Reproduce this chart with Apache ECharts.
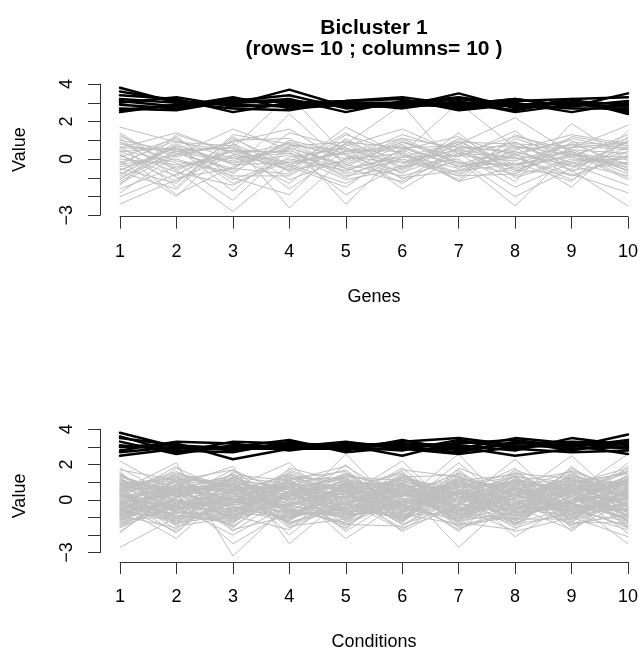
<!DOCTYPE html>
<html>
<head>
<meta charset="utf-8">
<script src="https://cdn.jsdelivr.net/npm/echarts@6/dist/echarts.min.js"></script>
<style>
  html, body { margin: 0; padding: 0; background: #fff; }
  #chart { width: 641px; height: 652px; }
</style>
</head>
<body>
<div id="chart"></div>
<script>
// Profile positions along the x axis
const positions = [1, 2, 3, 4, 5, 6, 7, 8, 9, 10];

// Y tick labels that are printed (other ticks stay unlabeled)
const yLabelValues = [-3, 0, 2, 4];
const yLabelTexts = ['\u22123', '0', '2', '4'];

// Genes panel: bicluster rows (black)
const geneIn = [
  [3.8, 3.0, 2.9, 3.7, 2.8, 3.0, 3.3, 2.9, 3.0, 2.6],
  [3.4, 3.2, 2.5, 3.0, 3.1, 3.3, 2.9, 3.2, 2.8, 3.5],
  [3.1, 2.8, 3.3, 2.7, 2.9, 2.8, 3.5, 2.7, 3.2, 2.4],
  [2.5, 2.9, 3.0, 3.2, 2.5, 3.1, 2.7, 3.0, 2.5, 3.0],
  [3.0, 3.3, 2.8, 2.9, 3.0, 2.7, 3.1, 2.5, 2.9, 2.8],
  [2.7, 2.6, 3.1, 3.4, 2.7, 2.9, 2.8, 3.1, 3.2, 3.3],
  [3.2, 3.0, 2.7, 2.6, 3.1, 3.2, 2.6, 2.9, 2.7, 2.7],
  [2.9, 2.7, 3.2, 3.0, 2.8, 2.8, 3.0, 2.6, 3.1, 2.9],
  [3.6, 3.1, 2.9, 2.8, 3.0, 3.0, 2.9, 3.2, 2.8, 3.1],
  [2.6, 2.9, 3.0, 3.1, 2.9, 2.9, 3.2, 2.8, 3.0, 2.5]
];

// Genes panel: remaining rows (grey)
const geneOut = [
  [1.7, 0.9, 0.4, -0.2, 0.3, 0.6, -0.4, 0.2, 1.1, 0.5],
  [-2.4, -1.1, 0.2, 0.8, -0.5, 0.1, 0.9, -0.3, 0.4, -0.8],
  [0.6, 1.4, 0.3, -0.6, 1.7, 0.2, -0.5, 0.7, -0.2, 0.1],
  [-0.3, 0.2, 1.6, 0.5, -0.9, -0.4, 0.8, 2.2, 0.3, -0.6],
  [0.9, -0.6, -2.8, -0.3, 0.4, 1.1, -0.2, -0.8, 0.6, 1.8],
  [-1.2, 0.5, 0.6, 3.4, 0.2, -0.7, 0.3, 0.1, -1.1, 0.4],
  [0.3, -1.9, -0.4, 0.9, -2.4, 0.5, 1.2, -0.5, 0.2, -0.3],
  [-0.8, 0.7, -1.3, -0.1, 0.8, 2.9, -0.6, 0.4, -0.4, 0.9],
  [1.2, 0.1, 0.9, -2.6, 0.1, -0.2, 0.5, -1.2, 1.9, -0.1],
  [-1.6, -0.4, 0.1, 0.3, -0.7, 0.8, -1.2, 0.9, -0.6, -2.5],
  [0.1, 1.1, -0.8, 1.4, 0.6, -1.6, 0.2, -0.1, 0.8, 0.6],
  [-0.5, -1.3, 1.2, -0.7, 1.3, 0.3, 3.0, 0.6, -0.9, 0.2],
  [0.8, 0.3, -0.6, 2.4, -0.3, -0.9, -0.1, -2.5, 0.4, -1.0],
  [-2.0, -0.8, 0.5, -0.4, -1.5, 0.6, 0.7, 0.3, -1.5, 1.2],
  [0.4, 0.6, -1.7, 0.7, 0.9, -0.1, -0.9, 1.1, 0.1, -0.4],
  [-0.1, -2.0, 0.8, -1.1, 0.0, 1.3, 0.4, -0.7, 0.9, 0.7],
  [1.0, 0.4, -0.2, 0.2, -1.1, -0.5, 1.1, 0.2, -0.3, -1.4],
  [-0.9, 0.9, 0.7, -1.6, 0.5, 0.4, -1.2, -0.4, 0.5, 0.3],
  [0.5, -0.2, -2.2, 0.6, -0.4, 0.9, 0.1, 1.5, -0.7, 1.0],
  [-1.4, 1.3, 0.3, -0.5, 1.0, -1.1, 0.6, -0.9, 0.0, -0.2],
  [0.2, -0.9, 1.0, 1.1, -0.8, 0.0, -0.7, 0.5, 1.3, 0.8],
  [-0.4, 0.0, -0.9, -0.9, 0.7, 1.6, 0.3, -1.5, -0.2, -0.9],
  [1.4, -0.5, 0.4, 0.4, -1.9, -0.3, 0.9, 0.8, 0.7, 0.5],
  [-1.1, 0.8, -0.3, -0.2, 0.4, 0.7, -0.4, -0.2, -1.2, 1.5],
  [0.7, -1.5, 1.3, 0.8, 0.2, -1.3, 0.5, 0.0, 0.4, -0.6],
  [-0.6, 0.6, -1.1, 0.0, -0.6, 0.2, -1.1, 1.3, 0.2, 0.1],
  [0.0, -0.3, 0.2, -1.3, 1.1, -0.6, 0.8, -0.6, -0.8, -1.8],
  [-1.8, 0.2, 0.9, 1.6, -0.2, 1.0, -0.3, 0.6, 0.6, 0.9],
  [1.1, -1.0, -0.5, -0.8, 0.8, -0.8, 1.4, -1.0, -0.1, 0.0],
  [-0.2, 1.0, 0.0, 0.5, -1.0, 0.5, -0.8, 0.3, 1.0, -0.7],
  [0.4, -0.7, -1.4, 0.1, 0.6, -0.4, 0.0, -2.0, -0.5, 0.6],
  [-1.0, 0.4, 0.6, -0.6, -0.1, 1.1, 0.6, 0.7, 0.2, 1.1],
  [0.9, -0.1, -0.7, 1.0, 0.3, -1.0, -0.6, -0.3, 0.8, -0.3],
  [-0.7, -1.6, 1.1, -0.3, -1.3, 0.1, 0.2, 0.9, -0.4, 0.4],
  [0.6, 0.5, -0.1, 0.7, 0.5, -0.2, 1.0, -0.6, 0.3, -1.1],
  [-0.3, 1.2, -1.0, -1.9, 0.9, 0.6, -0.4, 0.1, -0.9, 0.2],
  [1.3, -0.6, 0.5, 0.3, -0.5, -1.2, 0.3, 1.2, 0.5, -0.5],
  [-1.3, 0.3, -0.5, 0.9, 0.0, 0.3, -0.9, -0.8, 1.2, 0.7],
  [0.2, -1.2, 0.8, -0.4, 1.4, -0.5, 0.6, 0.4, -0.6, -0.2],
  [-0.6, 0.7, -0.2, 0.6, -0.3, 0.9, -0.2, -0.3, 0.1, 1.3]
];

// Conditions panel: bicluster columns (black)
const condIn = [
  [3.8, 3.0, 2.9, 3.2, 3.0, 3.3, 3.5, 3.1, 3.0, 3.7],
  [3.3, 2.6, 3.1, 3.0, 3.3, 2.9, 2.9, 3.5, 3.2, 2.9],
  [3.0, 3.2, 2.3, 2.9, 2.9, 3.2, 3.1, 2.8, 3.5, 3.1],
  [2.5, 2.9, 3.0, 3.4, 2.7, 3.0, 2.7, 3.3, 2.8, 3.3],
  [3.5, 3.1, 2.8, 3.1, 3.1, 2.5, 3.3, 3.0, 3.1, 2.6],
  [2.8, 3.3, 3.2, 2.8, 3.2, 3.1, 3.0, 2.5, 2.9, 3.0],
  [3.1, 2.8, 2.7, 3.3, 2.8, 3.4, 2.8, 3.2, 3.3, 3.2],
  [2.7, 3.0, 3.0, 3.0, 3.0, 2.8, 3.4, 2.9, 2.7, 2.8],
  [3.6, 2.7, 3.3, 3.2, 3.1, 3.0, 3.2, 3.4, 3.0, 3.4],
  [3.0, 3.1, 2.9, 2.9, 2.9, 2.9, 2.6, 3.0, 3.2, 3.0]
];

// Conditions panel: remaining columns (grey)
const condOut = [
  [2.2, 0.4, -0.3, 0.8, -0.5, 0.2, 1.1, -0.4, 0.3, -0.9],
  [-2.7, -1.0, -0.6, 0.3, 0.9, -0.4, 0.2, 0.7, -0.2, 0.5],
  [0.5, 2.1, -3.2, -0.2, 0.4, 1.0, -0.6, 0.1, 0.8, -0.3],
  [-0.4, -2.2, 0.7, 2.1, -0.8, 0.3, 0.5, -1.1, 0.0, 1.2],
  [1.1, 0.3, -2.5, -0.6, 2.6, -0.7, 0.0, 0.6, -0.5, 0.4],
  [-1.2, 0.8, 1.9, -2.5, 0.2, 2.2, -0.9, 0.3, 1.0, -0.6],
  [0.3, -0.5, 0.2, 0.6, -2.2, -0.1, 2.6, -0.8, 0.4, 2.6],
  [0.9, 1.2, -0.8, -0.3, 0.6, -1.8, -0.2, 2.3, -0.7, 0.1],
  [-0.7, -0.2, 0.5, 1.0, -0.1, 0.7, -2.7, 0.2, 2.5, -0.4],
  [0.0, 0.6, -1.1, 0.2, 1.1, 0.4, 0.8, -2.1, -0.1, -2.5],
  [1.5, -0.8, 0.4, -0.9, 0.3, -0.5, 0.3, 0.9, -1.8, 0.7],
  [-1.5, 0.1, 1.0, 0.4, -1.2, 0.9, -0.5, -0.3, 0.6, 1.5],
  [0.7, -1.4, -0.2, 1.3, 0.5, -1.0, 1.0, 0.5, 0.2, -1.2],
  [-0.2, 1.0, 0.9, -1.4, 0.0, 0.6, -1.3, 1.2, -0.9, 0.3],
  [1.2, -0.3, -1.5, 0.5, 1.4, -0.3, 0.4, -0.6, 1.3, 0.9],
  [-0.9, 0.5, 0.1, -0.4, -0.6, 1.3, -0.1, 0.0, -0.4, -1.6],
  [0.4, -1.7, 1.3, 0.9, -0.3, -0.8, 1.4, -1.4, 0.7, 0.2],
  [-1.1, 0.9, -0.4, -1.1, 0.8, 0.1, -0.7, 0.8, -1.1, 1.1],
  [0.8, -0.6, 0.6, 0.1, -1.5, 0.8, 0.6, -0.2, 0.5, -0.7],
  [-0.3, 1.4, -1.0, 1.6, 0.4, -1.4, -0.3, 1.0, 1.6, 0.6],
  [1.0, -0.1, 1.5, -0.7, -0.9, 0.5, 0.9, -0.9, -0.3, -1.0],
  [-0.6, -1.2, -0.1, 0.7, 1.2, -0.2, -1.5, 0.4, 0.9, 1.8],
  [0.2, 0.7, 0.8, -1.6, -0.2, 1.1, 0.2, -1.6, -0.6, -0.2],
  [-1.3, -0.4, -0.7, 0.5, 0.7, -1.1, 1.2, 0.6, 1.1, 0.8],
  [1.3, 0.2, 1.1, -0.1, -1.0, 0.0, -0.8, 1.4, -1.3, -1.3],
  [-0.1, -0.9, -1.3, 1.2, 1.6, -0.6, 0.5, -0.5, 0.3, 1.3],
  [0.6, 1.6, 0.3, -1.0, -0.4, 1.5, -1.0, 0.3, -0.8, -0.5],
  [-0.8, -0.1, -0.9, 0.8, 0.3, -1.3, 1.6, -1.2, 1.4, 0.0],
  [1.6, -1.1, 0.7, -0.5, -1.3, 0.9, -0.6, 1.1, -0.1, 1.0],
  [-0.5, 0.5, -0.5, 1.4, 0.9, -0.9, 0.7, -0.1, -1.4, -0.8],
  [0.1, -1.9, 1.2, -0.8, -0.7, 0.4, -1.8, 0.9, 0.8, 1.6],
  [-1.0, 1.1, -1.8, 0.3, 1.5, -0.4, 0.1, -0.7, -0.5, -1.5],
  [0.9, -0.5, 0.0, -1.3, -0.4, 1.7, 1.3, 0.2, 1.2, 0.4],
  [-1.8, 0.3, 0.9, 0.6, 0.1, -1.6, -0.4, -1.8, -1.0, 1.4],
  [0.3, -0.7, -1.4, 1.8, 1.0, 0.2, 0.8, 1.5, 0.1, -1.1],
  [-0.6, 1.8, 0.4, -0.2, -1.6, 0.7, -1.1, -0.4, 1.7, 0.3],
  [1.4, 0.0, -0.6, -1.2, 0.6, -0.7, 0.4, 1.3, -1.6, -0.1],
  [-0.2, -1.4, 1.6, 0.4, -0.9, 1.0, -1.6, -0.8, 0.5, 1.7],
  [0.5, 0.8, -1.2, 1.0, 1.3, -1.2, 1.8, 0.6, -0.3, -0.6],
  [-1.4, -0.3, 0.5, -0.7, -0.2, 0.6, -0.2, -1.3, 1.0, 0.9],
  [0.8, 1.3, -0.3, 0.2, 0.8, -0.5, 1.1, 0.7, -0.8, -1.7],
  [-0.4, -0.8, 1.0, -1.5, -1.1, 1.4, -0.9, -0.2, 0.6, 0.5],
  [1.1, 0.4, -1.6, 0.9, 0.5, -0.1, 0.3, 1.8, -1.2, 1.2],
  [-0.9, -1.6, 0.2, -0.4, 2.0, -0.8, -1.4, -1.0, 0.2, -0.9],
  [0.2, 0.6, 1.4, 1.1, -0.5, 0.3, 1.5, 0.1, 1.5, 0.1],
  [-1.6, -0.2, -0.8, -0.9, 0.2, 1.2, -0.5, 1.0, -0.4, 2.1],
  [0.6, 1.5, 0.6, 0.6, -1.4, -1.5, 0.6, -1.5, 0.9, -0.4],
  [-0.1, -1.3, -0.9, -1.7, 1.1, 0.5, -1.2, 0.4, -1.5, 0.6],
  [1.8, 0.1, 1.7, 0.3, -0.7, -0.4, 2.1, -0.6, 0.4, -1.9],
  [-0.7, 0.9, -0.1, 1.5, 0.0, 1.8, -0.7, 1.6, -0.2, 0.8],
  [0.0, -0.4, -2.0, -0.3, 0.7, -1.1, 0.0, -0.3, 1.1, -0.3],
  [-1.2, 1.2, 0.8, 0.7, -1.8, 0.2, 1.0, 0.5, -0.7, 1.0],
  [0.4, -1.1, -0.4, -1.1, 1.0, 0.8, -1.0, -1.1, 1.9, -0.7],
  [1.0, 0.2, 1.1, 0.1, -0.3, -1.0, 0.4, 1.1, -0.9, 0.2],
  [-0.3, -0.6, -1.1, 1.3, 0.4, 0.4, -0.3, 0.0, 0.7, -1.4],
  [0.7, 1.0, 0.3, -0.6, -1.0, -0.3, 1.7, -0.7, -0.1, 1.2],
  [-1.1, -1.0, 1.0, -2.0, 0.6, 1.6, -0.8, 1.2, 0.3, -0.1],
  [1.3, 0.5, -0.7, 0.8, 1.7, -0.6, 0.9, -0.1, -1.1, 0.5],
  [-0.5, -0.3, 0.1, -0.8, -0.8, 1.0, -1.3, -1.7, 1.3, -0.8],
  [0.1, 1.9, -1.5, 0.5, 0.3, -0.2, 0.7, 0.8, -0.6, 1.9],
  [-0.8, -0.7, 1.3, -0.1, -0.5, 0.6, -0.6, -0.5, 0.8, -0.6],
  [1.2, 0.0, -0.6, 1.2, 1.2, -1.3, 1.3, 0.3, -0.4, 0.7],
  [-1.9, 0.7, 0.4, -1.3, -0.2, 0.9, -0.2, -0.9, 1.2, -1.0],
  [0.5, -1.5, -1.0, 0.4, 0.9, -0.7, 1.1, 1.4, 0.0, 0.3],
  [-0.2, 0.4, 0.9, -0.5, -1.3, 0.1, -1.7, -0.2, -1.3, 1.1],
  [0.9, -0.2, -0.2, 1.7, 0.5, 1.2, 0.3, 0.9, 0.6, -1.2],
  [-0.6, 1.1, 1.7, -0.6, -0.6, -0.9, 0.8, -1.4, -0.8, 0.4],
  [0.3, -0.9, -1.2, 0.0, 1.4, 0.7, -0.9, 0.6, 1.6, -0.5],
  [-1.4, 0.6, 0.6, 0.9, -0.1, -1.7, 0.2, -0.6, -0.2, 1.4],
  [1.5, -0.5, -0.5, -1.0, 0.8, 0.3, -0.4, 1.7, 0.5, -0.9],
  [-0.3, 0.3, 1.2, 0.6, -1.7, 1.3, 1.4, -0.4, -1.7, 0.7],
  [0.6, -1.2, -0.8, -0.2, 0.2, -0.5, -1.1, 0.2, 0.9, -1.6],
  [-1.0, 0.8, 0.0, 1.1, 1.9, 0.0, 0.5, -1.3, -0.5, 0.0],
  [0.2, -0.6, 1.5, -1.4, -0.4, 1.4, -0.1, 1.3, 1.0, 1.5],
  [1.7, 1.1, -0.9, 0.2, 0.3, -1.2, 1.2, -0.8, -0.3, -0.4],
  [-0.4, -1.8, 0.5, 1.4, -1.1, 0.6, -0.5, 0.1, 0.4, 0.9],
  [0.8, 0.2, -1.7, -0.9, 1.0, -0.6, 0.8, 1.0, -1.0, -2.1],
  [-0.8, 1.3, 0.7, 0.3, -0.3, 0.8, -1.2, -0.7, 1.8, 0.2],
  [0.0, -0.3, -0.1, -0.4, 0.6, -1.4, 0.1, 0.5, -0.6, 1.2],
  [-1.3, 0.5, 1.1, 0.7, -0.8, 0.2, 1.0, -1.1, 0.2, -0.7],
  [0.4, 1.0, -0.4, -0.7, 0.1, 0.9, -0.8, 0.4, 0.7, -1.0],
  [-0.2, -0.5, 0.8, 0.3, -0.4, -1.1, 0.6, -0.5, -0.9, 0.6],
  [1.0, 0.6, 0.2, -0.3, 1.2, 0.4, -0.3, 1.2, 0.3, 0.0],
  [-1.1, 0.0, -0.6, 1.0, -0.9, -0.2, 0.9, -0.8, 0.5, 1.0],
  [0.6, -1.3, 0.6, -0.4, 0.6, 1.1, -1.4, 0.7, -0.5, -0.3],
  [-0.5, 0.7, -1.3, 0.5, -0.2, -0.5, 0.3, -0.2, 1.4, 0.4],
  [0.3, -0.2, 1.0, -1.0, 0.9, 0.2, 0.7, 0.9, -1.4, -0.8],
  [-0.9, 1.2, -0.2, 0.8, -0.6, 1.0, -0.4, -1.4, 0.6, 1.1],
  [1.2, -0.8, 0.4, 0.0, 0.4, -0.8, 1.0, 0.0, -0.2, -1.1],
  [-0.1, 0.3, -0.8, 1.2, -1.2, 0.5, -1.1, 0.8, 0.9, 0.3],
  [0.7, -0.4, 1.2, -0.6, 0.7, -0.3, 0.5, -0.4, 0.0, 1.3],
  [-0.6, 0.9, -0.5, 0.2, 1.3, 1.1, -0.2, 1.1, -1.2, -0.2],
  [0.2, -1.0, 0.3, 1.5, -0.3, -0.6, 1.2, -1.0, 0.8, 0.8],
  [-1.2, 0.4, 0.9, -0.8, 0.5, 0.3, -1.0, 0.5, -0.4, -0.5],
  [0.9, 0.0, -1.0, 0.4, -0.6, 1.4, 0.2, -0.3, 1.1, 0.6],
  [-0.4, -0.6, 0.1, -1.2, 1.0, -1.0, 0.8, 1.3, -0.7, -1.2],
  [0.5, 1.4, 0.7, 0.6, -1.1, 0.6, -0.5, -0.6, 0.3, 1.6],
  [-0.7, -0.1, -0.3, 0.1, 0.2, -0.4, 1.5, 0.2, 1.3, -0.4],
  [1.1, 0.5, 1.4, -0.9, -0.5, 0.8, -0.9, 0.7, -1.0, 0.2],
  [-0.3, -1.1, -0.7, 0.9, 0.8, -1.2, 0.4, -1.2, 0.2, 0.9],
  [0.0, 0.8, 0.5, -0.5, -1.4, 0.0, -0.6, 1.0, 1.0, -0.9],
  [-1.5, -0.4, -0.2, 0.7, 0.3, 0.7, 1.1, -0.1, -0.8, 0.5],
  [0.8, 1.1, 1.1, -0.1, 1.1, -0.9, -0.7, 0.6, 0.6, -1.5],
  [-0.8, -0.9, -1.1, 1.1, -0.7, 1.2, 0.6, -0.9, -0.1, 1.2],
  [1.4, 0.2, 0.0, -1.1, 0.0, -0.3, -1.2, 1.5, 1.2, 0.1],
  [-0.2, 1.5, 0.8, 0.2, 1.5, 0.4, 0.4, -0.4, -0.6, -0.6],
  [0.4, -0.7, -0.9, 0.8, -0.8, -0.7, 1.3, 0.3, 0.8, 1.0],
  [-1.0, 0.1, 1.3, -0.3, 0.6, 1.5, -0.8, -1.1, -1.1, -0.1],
  [0.6, -1.4, -0.1, 1.3, -0.1, -0.1, 0.1, 1.1, 0.4, 0.7],
  [-0.6, 0.6, 0.6, -0.7, 0.9, 0.9, -1.5, -0.7, 1.5, -1.3]
];

const FONT = "'Liberation Sans', Arial, Helvetica, sans-serif";
const AXIS_COLOR = '#333';

function yLabel(v) {
  const i = yLabelValues.indexOf(Math.round(v));
  return i >= 0 && Math.abs(v - yLabelValues[i]) < 1e-9 ? yLabelTexts[i] : '';
}

function makeXAxis(gridIndex, name, offset) {
  return {
    gridIndex, type: 'value', min: 1, max: 10, interval: 1,
    position: 'bottom', offset,
    name, nameLocation: 'middle', nameGap: 71,
    nameTextStyle: { fontFamily: FONT, fontSize: 18, color: '#000' },
    axisLine: { show: true, onZero: false, lineStyle: { color: AXIS_COLOR, width: 1 } },
    axisTick: { show: true, length: 12, lineStyle: { color: AXIS_COLOR, width: 1 } },
    axisLabel: { show: true, margin: 26, fontFamily: FONT, fontSize: 18, color: '#000',
                 showMinLabel: true, showMaxLabel: true },
    splitLine: { show: false }
  };
}

function makeYAxis(gridIndex, namePadding) {
  return {
    gridIndex, type: 'value', min: -3, max: 4, interval: 1,
    position: 'left', offset: 20,
    name: 'Value', nameLocation: 'middle', nameGap: 71, nameRotate: 90,
    nameTextStyle: { fontFamily: FONT, fontSize: 18, color: '#000', padding: namePadding },
    axisLine: { show: true, onZero: false, lineStyle: { color: AXIS_COLOR, width: 1 } },
    axisTick: { show: true, length: 12, lineStyle: { color: AXIS_COLOR, width: 1 } },
    axisLabel: { show: true, rotate: 90, margin: 24, fontFamily: FONT, fontSize: 18,
                 color: '#000', formatter: yLabel, showMinLabel: true, showMaxLabel: true },
    splitLine: { show: false }
  };
}

function profileSeries(rows, axisIndex, color, width) {
  return rows.map(row => ({
    type: 'line',
    xAxisIndex: axisIndex, yAxisIndex: axisIndex,
    data: row.map((v, i) => [positions[i], v]),
    symbol: 'none', silent: true, clip: false, animation: false,
    lineStyle: { color, width, cap: 'round', join: 'round' },
    emphasis: { disabled: true }
  }));
}

const chart = echarts.init(document.getElementById('chart'), null, { renderer: 'canvas' });

chart.setOption({
  backgroundColor: '#fff',
  animation: false,
  title: {
    text: 'Bicluster 1\n(rows= 10 ; columns= 10 )',
    left: 374, top: 18, textAlign: 'center', padding: 0,
    textStyle: { fontFamily: FONT, fontSize: 21, fontWeight: 'bold', color: '#000', lineHeight: 21 }
  },
  grid: [
    { left: 120, top: 84, width: 508, height: 131.3 },
    { left: 120, top: 429.3, width: 508, height: 124 }
  ],
  xAxis: [
    makeXAxis(0, 'Genes', 1.4),
    makeXAxis(1, 'Conditions', 9.4)
  ],
  yAxis: [
    makeYAxis(0, [0, 0, 0, 0]),
    makeYAxis(1, [0, 10, 0, 0])
  ],
  series: [
    ...profileSeries(geneOut, 0, '#bebebe', 1),
    ...profileSeries(geneIn, 0, '#000', 2.5),
    ...profileSeries(condOut, 1, '#bebebe', 1),
    ...profileSeries(condIn, 1, '#000', 2.5)
  ]
});
</script>
</body>
</html>
